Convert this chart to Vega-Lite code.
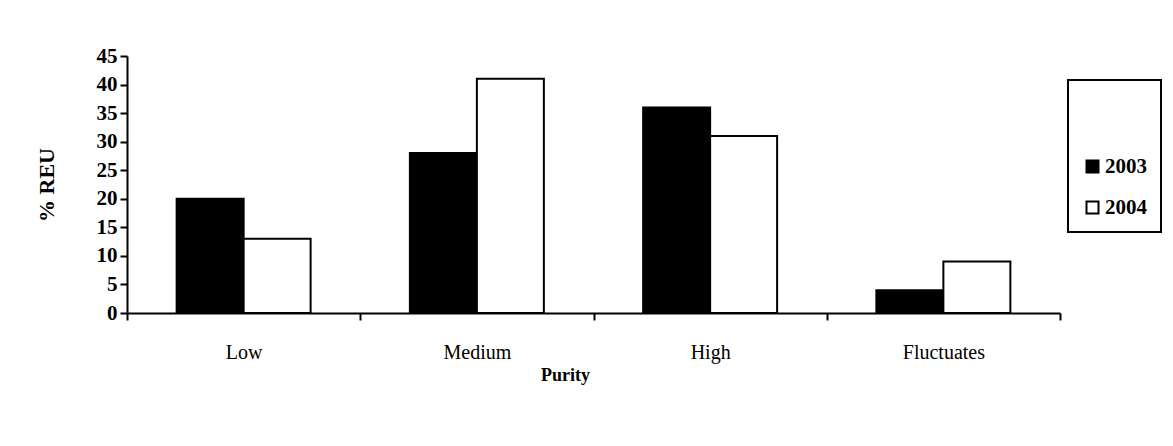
{
  "$schema": "https://vega.github.io/schema/vega-lite/v6.json",
  "autosize": "none",
  "padding": {"left": 127, "top": 56, "right": 113, "bottom": 133},
  "width": 933,
  "height": 257,
  "background": "white",
  "config": {
    "font": "Liberation Serif",
    "view": {"stroke": null},
    "axis": {"grid": false, "domainColor": "black", "tickColor": "black", "domainWidth": 2, "tickWidth": 2, "labelColor": "black", "titleColor": "black"},
    "legend": {"strokeWidth": 2}
  },
  "data": {
    "values": [
      {"purity": "Low", "year": "2003", "value": 20},
      {"purity": "Low", "year": "2004", "value": 13},
      {"purity": "Medium", "year": "2003", "value": 28},
      {"purity": "Medium", "year": "2004", "value": 41},
      {"purity": "High", "year": "2003", "value": 36},
      {"purity": "High", "year": "2004", "value": 31},
      {"purity": "Fluctuates", "year": "2003", "value": 4},
      {"purity": "Fluctuates", "year": "2004", "value": 9}
    ]
  },
  "mark": {"type": "bar", "stroke": "black", "strokeWidth": 2},
  "encoding": {
    "x": {
      "field": "purity",
      "type": "nominal",
      "sort": ["Low", "Medium", "High", "Fluctuates"],
      "scale": {"paddingInner": 0, "paddingOuter": 0},
      "axis": {
        "title": "Purity",
        "titleFont": "Liberation Serif",
        "titleFontSize": 18,
        "titleFontWeight": "bold",
        "titlePadding": 4,
        "titleX": 438,
        "labelAngle": 0,
        "labelFontSize": 20,
        "labelFontWeight": "normal",
        "labelPadding": 22,
        "tickSize": 7,
        "tickBand": "extent"
      }
    },
    "xOffset": {"field": "year", "type": "nominal", "sort": ["2003", "2004"], "scale": {"paddingInner": 0, "paddingOuter": 0.741}},
    "y": {
      "field": "value",
      "type": "quantitative",
      "scale": {"domain": [0, 45], "nice": false},
      "axis": {
        "title": "% REU",
        "titleFontSize": 22,
        "titleFontWeight": "bold",
        "titlePadding": 38,
        "values": [0, 5, 10, 15, 20, 25, 30, 35, 40, 45],
        "labelFontSize": 21,
        "labelFontWeight": "bold",
        "labelPadding": 3,
        "tickSize": 7
      }
    },
    "fill": {
      "field": "year",
      "type": "nominal",
      "scale": {"domain": ["2003", "2004"], "range": ["black", "white"]},
      "legend": {
        "orient": "none",
        "legendX": 941,
        "legendY": 24,
        "title": " ",
        "titleFontSize": 20,
        "titlePadding": 42,
        "padding": 14,
        "strokeColor": "black",
        "fillColor": "white",
        "symbolType": "square",
        "symbolSize": 144,
        "symbolStrokeColor": "black",
        "symbolStrokeWidth": 2,
        "labelFontSize": 21,
        "labelFontWeight": "bold",
        "labelColor": "black",
        "labelOffset": 2,
        "rowPadding": 19
      }
    }
  }
}
